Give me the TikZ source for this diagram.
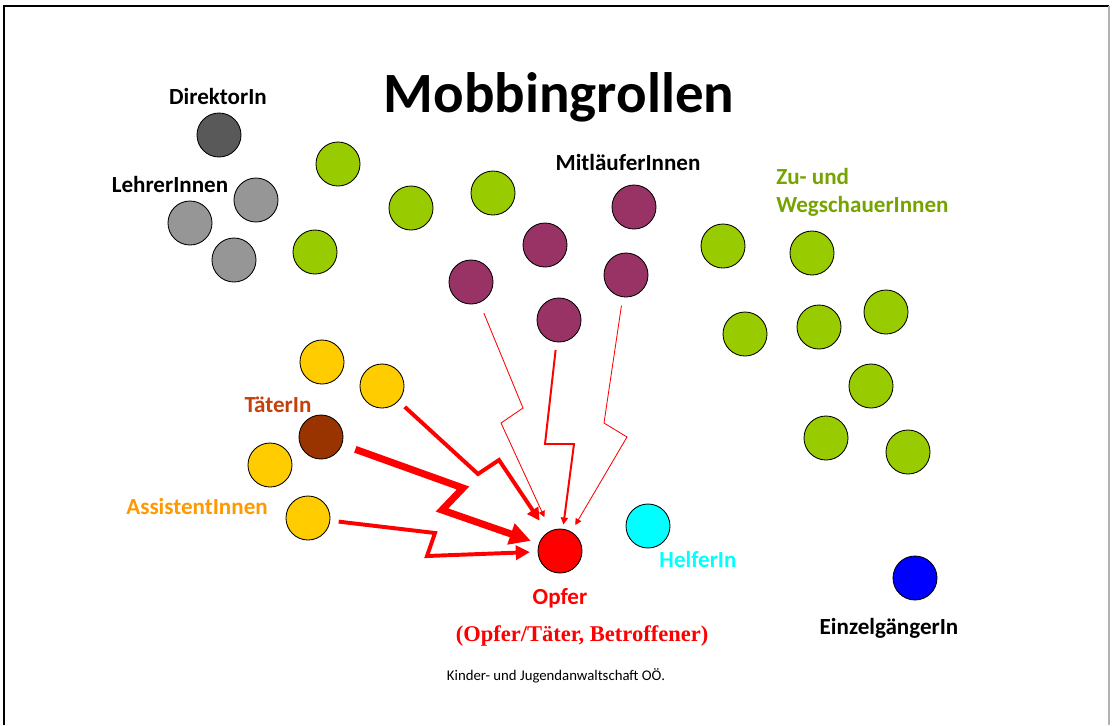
\documentclass[tikz,border=0pt]{standalone}
\usepackage{fontspec}
\setmainfont{Carlito}
\newfontfamily\timesfont{Liberation Serif}
\usetikzlibrary{arrows.meta}
\definecolor{direktorgray}{HTML}{595959}
\definecolor{lehrergray}{HTML}{969696}
\definecolor{zugreen}{HTML}{99CC00}
\definecolor{zutext}{HTML}{77A300}
\definecolor{mitpurple}{HTML}{993366}
\definecolor{assistyellow}{HTML}{FFCC00}
\definecolor{assisttext}{HTML}{FF9900}
\definecolor{taeterbrown}{HTML}{993300}
\definecolor{taetertext}{HTML}{C4410C}
\definecolor{helfcyan}{HTML}{00FFFF}
\definecolor{einzblue}{HTML}{0000FF}

\begin{document}
\begin{tikzpicture}[x=0.025cm, y=-0.025cm,
	person/.style={circle, draw=black, line width=0.6pt, minimum size=1.1cm, inner sep=0pt},
	lbl/.style={font=\bfseries\fontsize{16.4}{20}\selectfont, anchor=base, inner sep=0pt},
	blitz/.style={red, -{Triangle[length=#1, width=#1]}}]
		\useasboundingbox (0,0) rectangle (1112,725);
		\draw[line width=1.3pt] (4,725) -- (4,6) -- (1109,6);
		\draw[gray!60, line width=1.3pt] (1109,6) -- (1109,725);
		% title
		\node[anchor=base, inner sep=0pt, font=\bfseries\fontsize{40.5}{48}\selectfont] (title) at (559,112) {Mobbingrollen};
		% direktorin, lehrerinnen
		\node[person, fill=direktorgray] (dir) at (219,135) {};
		\node[person, fill=lehrergray] (l1) at (256,200) {};
		\node[person, fill=lehrergray] (l2) at (190,223) {};
		\node[person, fill=lehrergray] (l3) at (234,260) {};
		\node[lbl] (dirlbl) at (218,104) {DirektorIn};
		\node[lbl] (lehrlbl) at (170,192) {LehrerInnen};
		% zu- und wegschauerinnen
		\node[person, fill=zugreen] (g1) at (338,164) {};
		\node[person, fill=zugreen] (g2) at (411,208) {};
		\node[person, fill=zugreen] (g3) at (493,193) {};
		\node[person, fill=zugreen] (g4) at (315,252) {};
		\node[person, fill=zugreen] (g5) at (723,246) {};
		\node[person, fill=zugreen] (g6) at (812,253) {};
		\node[person, fill=zugreen] (g7) at (745,334) {};
		\node[person, fill=zugreen] (g8) at (819,327) {};
		\node[person, fill=zugreen] (g9) at (886,312) {};
		\node[person, fill=zugreen] (g10) at (871,386) {};
		\node[person, fill=zugreen] (g11) at (826,438) {};
		\node[person, fill=zugreen] (g12) at (908,452) {};
		\node[lbl, anchor=base west, text=zutext] (zulbl) at (776,184) {Zu- und};
		\node[lbl, anchor=base west, text=zutext] (weglbl) at (776,212) {WegschauerInnen};
		% mitlaeuferinnen
		\node[person, fill=mitpurple] (m1) at (634,207) {};
		\node[person, fill=mitpurple] (m2) at (545,245) {};
		\node[person, fill=mitpurple] (m3) at (471,282) {};
		\node[person, fill=mitpurple] (m4) at (626,275) {};
		\node[person, fill=mitpurple] (m5) at (559,320) {};
		\node[lbl] (mitlbl) at (628,170) {MitläuferInnen};
		% taeterin, assistentinnen
		\node[person, fill=assistyellow] (a1) at (322,362) {};
		\node[person, fill=assistyellow] (a2) at (382,386) {};
		\node[person, fill=assistyellow] (a3) at (270,465) {};
		\node[person, fill=assistyellow] (a4) at (308,518) {};
		\node[person, fill=taeterbrown] (tat) at (321,437) {};
		\node[lbl, text=taetertext] (tatlbl) at (278,412) {TäterIn};
		\node[lbl, text=assisttext] (asslbl) at (197,514) {AssistentInnen};
		% opfer, helferin, einzelgaengerin
		\node[person, fill=red] (opfer) at (560,551) {};
		\node[person, fill=helfcyan] (helf) at (648,526) {};
		\node[person, fill=einzblue] (einz) at (915,578) {};
		\node[lbl, text=red] (opferlbl) at (560,604) {Opfer};
		\node[anchor=base, inner sep=0pt, text=red, font=\timesfont\bfseries\fontsize{16}{20}\selectfont] (opferzus) at (582,641) {(Opfer/Täter, Betroffener)};
		\node[lbl, text=helfcyan] (helflbl) at (698,567) {HelferIn};
		\node[lbl] (einzlbl) at (889,634) {EinzelgängerIn};
		\node[anchor=base, inner sep=0pt, font=\fontsize{10.5}{13}\selectfont] (quelle) at (556,680) {Kinder- und Jugendanwaltschaft OÖ.};
		% blitze
		\draw[blitz=4.5pt, line width=0.6pt, shorten <=8pt, shorten >=10.5pt] (m3) -- (523,408) -- (501,423) -- (opfer);
		\draw[blitz=5pt, line width=1.4pt, shorten <=5.5pt, shorten >=3pt] (m5) -- (545,444) -- (574,444) -- (opfer);
		\draw[blitz=4.5pt, line width=0.6pt, shorten <=6pt, shorten >=5.5pt] (m4) -- (604,423) -- (627,437) -- (opfer);
		\draw[blitz=9pt, line width=2.8pt, shorten <=6pt, shorten >=10pt] (a2) -- (478,474) -- (499,460) -- (opfer);
		\draw[blitz=15pt, line width=5pt, shorten <=10pt, shorten >=6pt] (tat) -- (463,488) -- (442,510) -- (opfer);
		\draw[blitz=10pt, line width=2.8pt, shorten <=6pt, shorten >=5.5pt] (a4) -- (435,533) -- (427,556) -- (opfer);
\end{tikzpicture}
\end{document}
